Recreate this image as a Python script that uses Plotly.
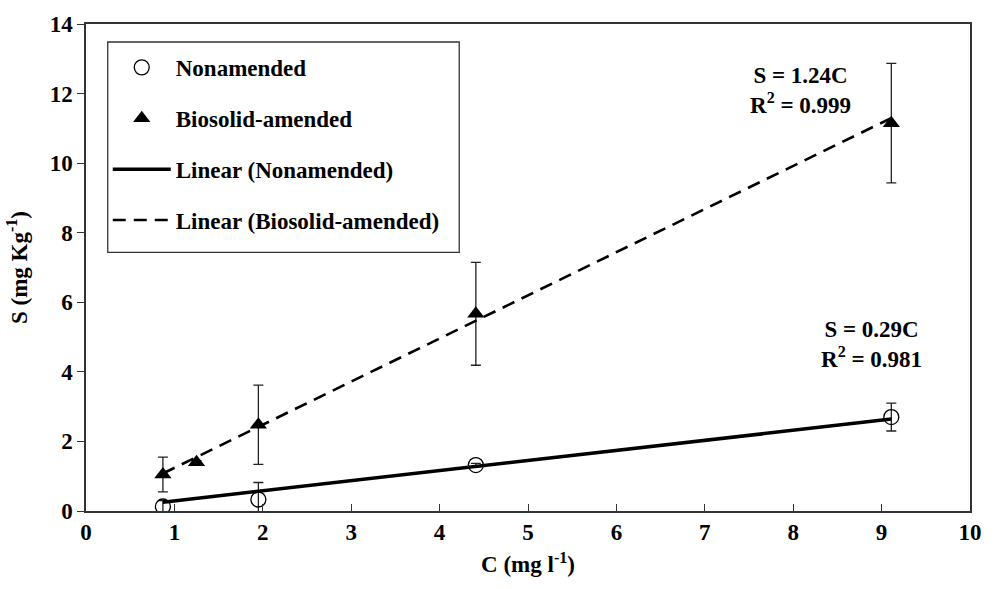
import plotly.graph_objects as go

# Data
c_non = [0.87, 1.95, 4.41, 9.11]
s_non = [0.13, 0.33, 1.32, 2.70]
e_non = [0.17, 0.49, 0.05, 0.40]

c_bio = [0.87, 1.25, 1.95, 4.41, 9.11]
s_bio = [1.05, 1.40, 2.48, 5.67, 11.15]
e_bio = [0.50, 0.05, 1.14, 1.48, 1.72]

slope_non = 0.29
slope_bio = 1.24

FONT = "Liberation Serif"
fig = go.Figure()

fig.add_trace(go.Scatter(
    x=c_non, y=s_non, mode="markers", name="Nonamended", legendgroup="a",
    marker=dict(symbol="circle-open", size=15, color="black", line=dict(width=1.3, color="black")),
    error_y=dict(type="data", array=e_non, visible=True, color="#222", thickness=1.3, width=5),
))
fig.add_trace(go.Scatter(
    x=c_bio, y=s_bio, mode="markers", name="Biosolid-amended", legendgroup="b",
    marker=dict(symbol="triangle-up", size=15, color="black"),
    error_y=dict(type="data", array=e_bio, visible=True, color="#222", thickness=1.3, width=5),
))
xl_non = [min(c_non), max(c_non)]
fig.add_trace(go.Scatter(
    x=xl_non, y=[slope_non * v for v in xl_non], mode="lines", name="Linear (Nonamended)",
    legendgroup="c", line=dict(color="black", width=3.5),
))
xl_bio = [min(c_bio), max(c_bio)]
fig.add_trace(go.Scatter(
    x=xl_bio, y=[slope_bio * v for v in xl_bio], mode="lines", name="Linear (Biosolid-amended)",
    legendgroup="d", line=dict(color="black", width=2.6, dash="13px,8px"),
))

fig.add_annotation(x=8.08, y=12.1, xref="x", yref="y", showarrow=False,
                   text="S = 1.24C<br>R<sup>2</sup> = 0.999",
                   font=dict(family=FONT, size=23, color="black", weight="bold"), align="center")
fig.add_annotation(x=8.89, y=4.8, xref="x", yref="y", showarrow=False,
                   text="S = 0.29C<br>R<sup>2</sup> = 0.981",
                   font=dict(family=FONT, size=23, color="black", weight="bold"), align="center")

# legend frame
fig.add_shape(type="rect", xref="paper", yref="paper",
              x0=0.0246, x1=0.4222, y0=0.531, y1=0.963,
              line=dict(color="#333", width=1.3), fillcolor="rgba(0,0,0,0)", layer="above")

fig.update_layout(
    width=994, height=589,
    margin=dict(l=86, r=15, t=18, b=78),
    paper_bgcolor="white", plot_bgcolor="white",
    font=dict(family=FONT, color="black", weight="bold"),
    showlegend=True,
    legend=dict(x=0.0246, y=0.955, xanchor="left", yanchor="top",
                borderwidth=0, bgcolor="rgba(0,0,0,0)",
                font=dict(family=FONT, size=23, color="black", weight="bold"),
                tracegroupgap=18, itemwidth=58),
    xaxis=dict(range=[0, 10], dtick=1, showgrid=False, zeroline=False,
               showline=True, linecolor="#333", linewidth=1.5, mirror=True,
               ticks="inside", ticklen=7, tickcolor="#333",
               tickfont=dict(family=FONT, size=23, color="black", weight="bold"),
               title=dict(text="C (mg l<sup>-1</sup>)", font=dict(family=FONT, size=23, weight="bold"), standoff=12)),
    yaxis=dict(range=[0, 14], dtick=2, showgrid=False, zeroline=False,
               showline=True, linecolor="#333", linewidth=1.5, mirror=True,
               ticks="outside", ticklen=7, tickcolor="#333",
               tickfont=dict(family=FONT, size=23, color="black", weight="bold"),
               title=dict(text="S (mg Kg<sup>-1</sup>)", font=dict(family=FONT, size=23, weight="bold"), standoff=16)),
)

fig.write_html("out.html")
